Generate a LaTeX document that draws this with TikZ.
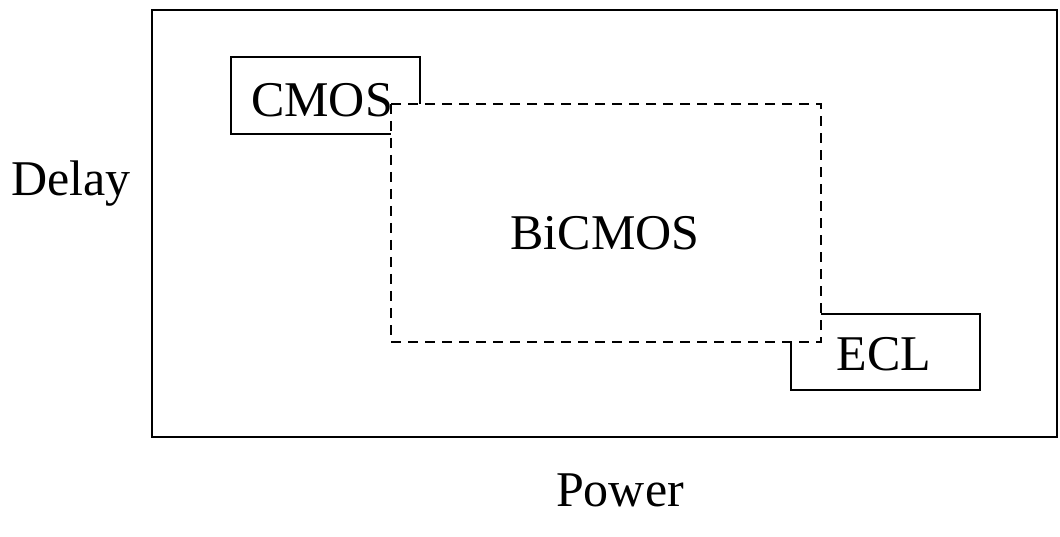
\documentclass[tikz,border=0pt]{standalone}
\usepackage{fontspec}
\setmainfont{Liberation Serif}
\begin{document}
\begin{tikzpicture}[x=1pt,y=-1pt,
  frame/.style={draw=black,line width=2.6pt},
  region/.style={draw=black,line width=2.4pt,dash pattern=on 10pt off 7pt,fill=white},
  lbl/.style={font=\fontsize{50}{50}\selectfont,inner sep=0pt}]
  \useasboundingbox (0,0) rectangle (1060,537);
  % axes frame
  \draw[frame] (152,10) rectangle (1057,437);
  % technology boxes
  \draw[frame] (231,57) rectangle (420,134) coordinate (cmosbr);
  \draw[frame] (791,314) rectangle (980,390);
  % BiCMOS region, drawn over the corners of the other two
  \draw[region] (391,104) rectangle (821,342);
  % labels
  \node[lbl] (cmos) at (322,100) {CMOS};
  \node[lbl] (ecl) at (884,354) {ECL};
  \node[lbl] (bicmos) at (605,233) {BiCMOS};
  \node[lbl] (delay) at (71,184) {Delay};
  \node[lbl] (power) at (620,490) {Power};
\end{tikzpicture}
\end{document}
